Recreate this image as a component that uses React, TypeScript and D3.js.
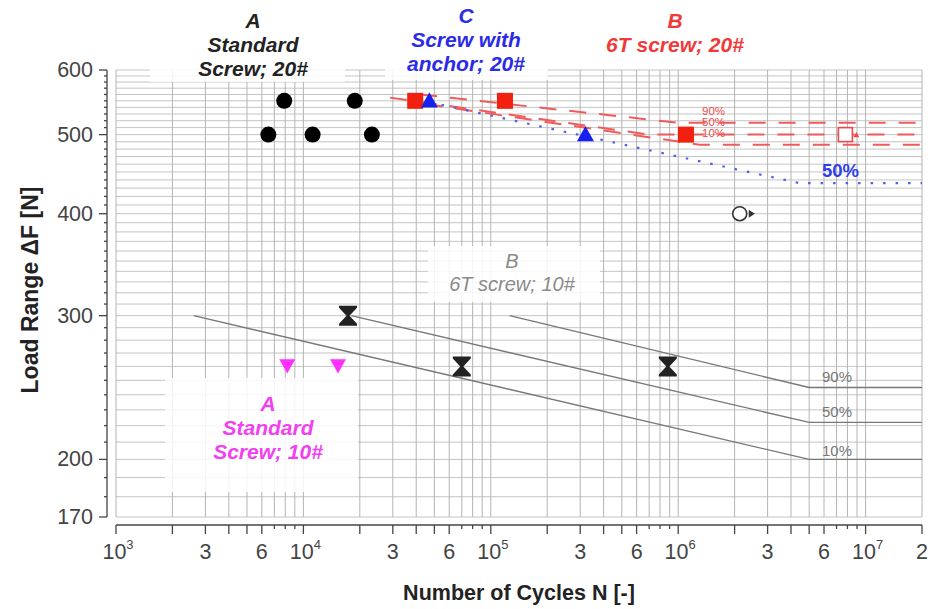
import React from "react";
import * as d3 from "d3";

// ---- data ----
const yTicks = [170, 200, 300, 400, 500, 600];
const xTickLabels: [number, string, string][] = [
  [1e3, "10", "3"], [3e3, "3", ""], [6e3, "6", ""],
  [1e4, "10", "4"], [3e4, "3", ""], [6e4, "6", ""],
  [1e5, "10", "5"], [3e5, "3", ""], [6e5, "6", ""],
  [1e6, "10", "6"], [3e6, "3", ""], [6e6, "6", ""],
  [1e7, "10", "7"], [2e7, "2", ""],
];

// A, standard screw, 20#
const blackCircles: [number, number][] = [[6.5e3, 500], [7.9e3, 550], [1.12e4, 500], [1.88e4, 550], [2.32e4, 500]];
// B, 6T screw, 20#
const redSquares: [number, number][] = [[3.95e4, 550], [1.19e5, 550], [1.1e6, 500]];
const redRunout: [number, number][] = [[7.8e6, 500]];
// C, screw with anchor, 20#
const blueTriangles: [number, number][] = [[4.7e4, 550], [3.2e5, 500]];
const blackRunout: [number, number][] = [[2.13e6, 400]];
// A, standard screw, 10#
const magentaTriangles: [number, number][] = [[8.2e3, 260], [1.53e4, 260]];
// B, 6T screw, 10#
const hourglass: [number, number][] = [[1.73e4, 300], [7.0e4, 260], [8.8e5, 260]];

const gray10: [number, number][] = [[2.6e3, 300], [5e6, 200], [2e7, 200]];
const gray50: [number, number][] = [[1.8e4, 300], [5e6, 222], [2e7, 222]];
const gray90: [number, number][] = [[1.26e5, 300], [5e6, 245], [2e7, 245]];

const red90: [number, number][] = [[4.2e4, 560], [1.0e6, 517], [2e7, 517]];
const red50: [number, number][] = [[2.9e4, 555], [7.0e5, 500], [2e7, 500]];
const red10: [number, number][] = [[4.5e4, 545], [1.3e6, 486], [2e7, 486]];

const blue50: [number, number][] = [[4.7e4, 548], [4.45e6, 436], [2e7, 436]];

const FONT = "'Liberation Sans', Arial, Helvetica, sans-serif";

export default function App() {
  const x = d3.scaleLog().domain([1e3, 2e7]).range([116, 922]);
  const y = d3.scaleLog().domain([170, 600]).range([517, 70]);
  const line = d3.line<[number, number]>().x(d => x(d[0])).y(d => y(d[1]));

  // grid positions
  const xGrid: number[] = [];
  for (let e = 3; e <= 7; e++) for (let m = 1; m <= 9; m++) {
    const v = m * Math.pow(10, e);
    if (v <= 2e7 * 1.0001) xGrid.push(v);
  }
  const yGrid = d3.range(170, 601, 10);

  const xAxisY = 525;
  const yAxisX = 107;

  const box = (x0: number, y0: number, x1: number, y1: number) => (
    <rect x={x0} y={y0} width={x1 - x0} height={y1 - y0} fill="#fff" opacity={0.85} />
  );

  const tri = (cx: number, cy: number, s: number, down: boolean, fill: string, key: string) => {
    const h = s * 0.9;
    const d = down
      ? `M${cx - s / 2},${cy - h / 2}L${cx + s / 2},${cy - h / 2}L${cx},${cy + h / 2}Z`
      : `M${cx - s / 2},${cy + h / 2}L${cx + s / 2},${cy + h / 2}L${cx},${cy - h / 2}Z`;
    return <path key={key} d={d} fill={fill} />;
  };

  const label = (lines: string[], cx: number, y0: number, dy: number, fill: string, size: number, weight: string) => (
    <text x={cx} y={y0} textAnchor="middle" fontFamily={FONT} fontSize={size} fontWeight={weight} fontStyle="italic" fill={fill}>
      {lines.map((t, i) => (
        <tspan key={i} x={cx} y={y0 + i * dy}>{t}</tspan>
      ))}
    </text>
  );

  return (
    <svg width={932} height={609} style={{ position: "absolute", left: 0, top: 0, background: "#fff" }}>
      {/* grid */}
      <g stroke="#c4c4c4" strokeWidth={1}>
        {yGrid.map(v => (
          <line key={"h" + v} x1={x(1e3)} x2={x(2e7)} y1={y(v)} y2={y(v)} />
        ))}
        {xGrid.map(v => (
          <line key={"v" + v} x1={x(v)} x2={x(v)} y1={y(600)} y2={y(170)} stroke="#b4b4b4" />
        ))}
      </g>

      {/* label backgrounds */}
      {box(150, 62, 345, 82)}
      {box(385, 62, 548, 80)}
      {box(428, 246, 600, 302)}
      {box(165, 378, 358, 492)}

      {/* y axis */}
      <g stroke="#444" strokeWidth={1.3}>
        <line x1={yAxisX} x2={yAxisX} y1={y(600)} y2={y(170)} />
        {yGrid.map(v => (
          <line key={"yt" + v} x1={yAxisX} x2={yAxisX - (yTicks.includes(v) ? 8 : 3)} y1={y(v)} y2={y(v)} />
        ))}
      </g>
      {yTicks.map(v => (
        <text key={"yl" + v} x={93} y={y(v) + 7} textAnchor="end" fontFamily={FONT} fontSize={21.5} fill="#444">{v}</text>
      ))}

      {/* x axis */}
      <g stroke="#444" strokeWidth={1.3}>
        <line x1={x(1e3)} x2={x(2e7)} y1={xAxisY} y2={xAxisY} />
        {xGrid.map(v => {
          const m = Math.round(v / Math.pow(10, Math.floor(Math.log10(v) + 1e-9)));
          return <line key={"xt" + v} x1={x(v)} x2={x(v)} y1={xAxisY} y2={xAxisY + (m >= 7 ? 4 : 9)} />;
        })}
      </g>
      {xTickLabels.map(([v, base, exp]) => (
        <text key={"xl" + v} x={x(v) + (exp ? 2 : 0)} y={559} textAnchor="middle" fontFamily={FONT} fontSize={21.5} fill="#444">
          {base}
          {exp && <tspan fontSize={13} dy={-10}>{exp}</tspan>}
        </text>
      ))}

      {/* axis titles */}
      <text x={519} y={600} textAnchor="middle" fontFamily={FONT} fontSize={21.5} fontWeight="bold" fill="#222">
        Number of Cycles N [-]
      </text>
      <text transform={`translate(38,290) rotate(-90)`} textAnchor="middle" fontFamily={FONT} fontSize={23} fontWeight="bold" fill="#222">
        Load Range ΔF [N]
      </text>

      {/* curves, 10# */}
      <g fill="none" stroke="#777" strokeWidth={1.4}>
        <path d={line(gray10) || ""} />
        <path d={line(gray50) || ""} />
        <path d={line(gray90) || ""} />
      </g>
      {/* curves, 20# */}
      <g fill="none" stroke="#f05a5a" strokeWidth={2} strokeDasharray="17 13">
        <path d={line(red90) || ""} />
        <path d={line(red50) || ""} />
        <path d={line(red10) || ""} />
      </g>
      <path d={line(blue50) || ""} fill="none" stroke="#5060e0" strokeWidth={2.2} strokeDasharray="2.5 10" />

      {/* markers */}
      {blackCircles.map(([n, f], i) => (
        <circle key={"bc" + i} cx={x(n)} cy={y(f)} r={8} fill="#000" />
      ))}
      {redSquares.map(([n, f], i) => (
        <rect key={"rs" + i} x={x(n) - 8} y={y(f) - 8} width={16} height={16} fill="#f2200e" />
      ))}
      {redRunout.map(([n, f], i) => (
        <g key={"rr" + i}>
          <rect x={x(n) - 7} y={y(f) - 7} width={14} height={14} fill="#fff" stroke="#f04848" strokeWidth={1.6} />
          {tri(x(n) + 11, y(f), 6, false, "#f04848", "rra")}
        </g>
      ))}
      {blueTriangles.map(([n, f], i) => tri(x(n), y(f) - 1, 17, false, "#1820f0", "bt" + i))}
      {blackRunout.map(([n, f], i) => (
        <g key={"br" + i}>
          <circle cx={x(n)} cy={y(f)} r={7} fill="#fff" stroke="#333" strokeWidth={1.6} />
          <path d={`M${x(n) + 9},${y(f) - 4}L${x(n) + 15},${y(f)}L${x(n) + 9},${y(f) + 4}Z`} fill="#333" />
        </g>
      ))}
      {magentaTriangles.map(([n, f], i) => tri(x(n), y(f), 16, true, "#ff30ff", "mt" + i))}
      {hourglass.map(([n, f], i) => {
        const cx = x(n), cy = y(f);
        const d = `M${cx - 9},${cy - 10}H${cx + 9}V${cy - 8}L${cx + 1.5},${cy}L${cx + 9},${cy + 8}V${cy + 10}H${cx - 9}V${cy + 8}L${cx - 1.5},${cy}L${cx - 9},${cy - 8}Z`;
        return <path key={"hg" + i} d={d} fill="#222" />;
      })}

      {/* percentage labels */}
      <g fontFamily={FONT} fontSize={15} fill="#777">
        <text x={822} y={382}>90%</text>
        <text x={822} y={417}>50%</text>
        <text x={822} y={456}>10%</text>
      </g>
      <g fontFamily={FONT} fontSize={11.5} fill="#f04a4a">
        <text x={702} y={115}>90%</text>
        <text x={702} y={126}>50%</text>
        <text x={702} y={137}>10%</text>
      </g>
      <text x={822} y={177} fontFamily={FONT} fontSize={18.5} fontWeight="bold" fill="#3040e8">50%</text>

      {/* series labels */}
      {label(["A", "Standard", "Screw; 20#"], 253, 28, 24, "#222", 21, "bold")}
      {label(["C", "Screw with", "anchor; 20#"], 466, 23, 24, "#2a2ae8", 21, "bold")}
      {label(["B", "6T screw; 20#"], 675, 28, 24, "#f03a3a", 21, "bold")}
      {label(["B", "6T screw; 10#"], 512, 268, 23, "#8a8a8a", 20, "normal")}
      {label(["A", "Standard", "Screw; 10#"], 268, 411, 24, "#f040f0", 21, "bold")}
    </svg>
  );
}
